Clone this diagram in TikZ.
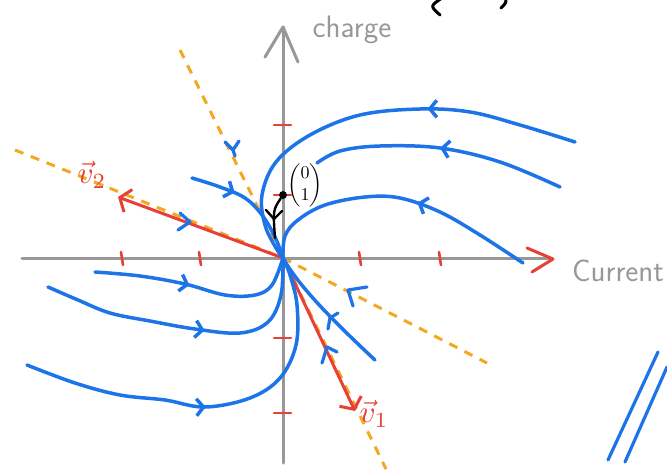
\documentclass[tikz,border=0pt]{standalone}
\usepackage{fontspec}
\usepackage{amsmath}
\usepackage{xcolor}
\usepackage{tikz}
\usetikzlibrary{arrows.meta, positioning}
\usetikzlibrary{decorations.markings}

\definecolor{penblue}{RGB}{28,116,232}
\definecolor{penred}{RGB}{232,64,52}
\definecolor{penorange}{RGB}{244,168,34}
\definecolor{pengray}{RGB}{152,152,152}

\begin{document}
\begin{tikzpicture}[x=1pt,y=-1pt,
    traj/.style={penblue,line width=3.5pt,line cap=round,line join=round},
    flowat/.style={postaction={decorate,decoration={markings,
        mark=at position #1 with {\arrow{Straight Barb[length=7pt,width=17pt]}}}}},
    chev/.style={penblue,line width=3.2pt,line cap=round,line join=round},
    eig/.style={penred,line width=3pt,line cap=round,-{Straight Barb[length=9pt,width=24pt]}},
    axis/.style={pengray,line width=3pt,line cap=round,line join=round},
    tick/.style={penred,line width=2.6pt,line cap=round},
    nullc/.style={penorange,line width=3pt,dash pattern=on 9pt off 8pt},
    axlabel/.style={pengray,font=\sffamily\fontsize{31}{33}\selectfont},
    veclabel/.style={penred,scale=3.1,inner sep=0pt}]
    \useasboundingbox (0,0) rectangle (667,469);
    \coordinate (O) at (283,258);

    \draw[nullc] (180,50) -- (O) -- (386,469);
    \draw[nullc] (15,150) -- (O) -- (487,363);

    \draw[axis] (22,258) -- (549,258);
    \draw[axis] (283,463) -- (283,27);
    \draw[axis] (265,57) -- (283,27) -- (298,62);
    \draw[penred,line width=3pt,line cap=round,line join=round] (527,248) -- (553,259) -- (532,272);
    \foreach \x in {122,200,360,440}
        \draw[tick] (\x-1,252) -- (\x+1,265);
    \foreach \y in {125,195,338,413}
        \draw[tick] (274,\y) -- (291,\y);

    \coordinate (v2) at (118,197);
    \coordinate (v1) at (355,411);
    \draw[eig] (O) -- (v2);
    \draw[eig] (O) -- (v1);
    \node[veclabel] (v2lab) at (92,175) {$\vec{v}_2$};
    \node[veclabel] (v1lab) at (374,414) {$\vec{v}_1$};

    \draw[traj,flowat=0.36] plot[smooth,tension=0.6] coordinates {(575,142) (520,125) (470,112) (420,109) (360,115) (310,135) (276,162) (262,195) (265,225) (276,248) (283,258)};
    \draw[traj,flowat=0.5] plot[smooth,tension=0.6] coordinates {(560,187) (500,162) (440,148) (380,146) (340,151) (317,163)};
    \draw[traj,flowat=0.42] plot[smooth,tension=0.6] coordinates {(523,263) (480,235) (440,212) (400,198) (365,197) (325,205) (298,220) (285,236) (283,258)};
    \draw[traj,flowat=0.35] plot[smooth,tension=0.6] coordinates {(192,178) (220,187) (245,198) (262,215) (275,237) (283,258)};
    \draw[traj,flowat=0.45] plot[smooth,tension=0.6] coordinates {(95,272) (140,276) (185,284) (225,295) (255,295) (272,285) (283,258)};
    \draw[traj,flowat=0.55] plot[smooth,tension=0.6] coordinates {(48,287) (78,300) (110,313) (150,321) (195,329) (240,333) (268,322) (281,295) (283,258)};
    \draw[traj,flowat=0.47] plot[smooth,tension=0.6] coordinates {(27,365) (75,383) (120,395) (165,400) (205,407) (250,398) (280,378) (296,345) (297,305) (290,275) (283,258)};
    \coordinate (istart) at (375,360);
    \draw[traj] (istart) .. controls (330,318) and (298,285) .. (O);
    \draw[chev] (338,313) -- (330,318) -- (328,329);

    \draw[chev] (225,142) -- (233,150) -- (239,141);
    \draw[chev] (233,150) -- (235,156);
    \draw[chev] (180,213) -- (190,222) -- (178,230);
    \draw[chev] (367,287) -- (348,290) -- (353,306);
    \draw[chev] (322,363) -- (327,347) -- (337,352);

    \draw[chev] (658,352) -- (608,460);
    \draw[chev] (667,367) -- (625,462);

    \draw[black,line width=3pt,line cap=round] (442,-2) .. controls (430,6) .. (440,15);
    \draw[black,line width=3pt,line cap=round] (506,-2) .. controls (506,3) .. (501,8);

    \node[circle,fill=black,inner sep=2.8pt] (pt) at (283,195) {};
    \node[scale=1.8,inner sep=0pt] (vec) at (305,185) {$\begin{pmatrix}0\\1\end{pmatrix}$};
    \coordinate (ptend) at (275,238);
    \draw[black,line width=2.4pt,line cap=round] (pt) .. controls (273,210) .. (ptend);
    \draw[black,line width=2.4pt,line cap=round,line join=round] (266,210) -- (274,219) -- (282,211);

    \node[axlabel] (charge) at (352,30) {charge};
    \node[axlabel] (current) at (618,271) {Current};
\end{tikzpicture}
\end{document}
